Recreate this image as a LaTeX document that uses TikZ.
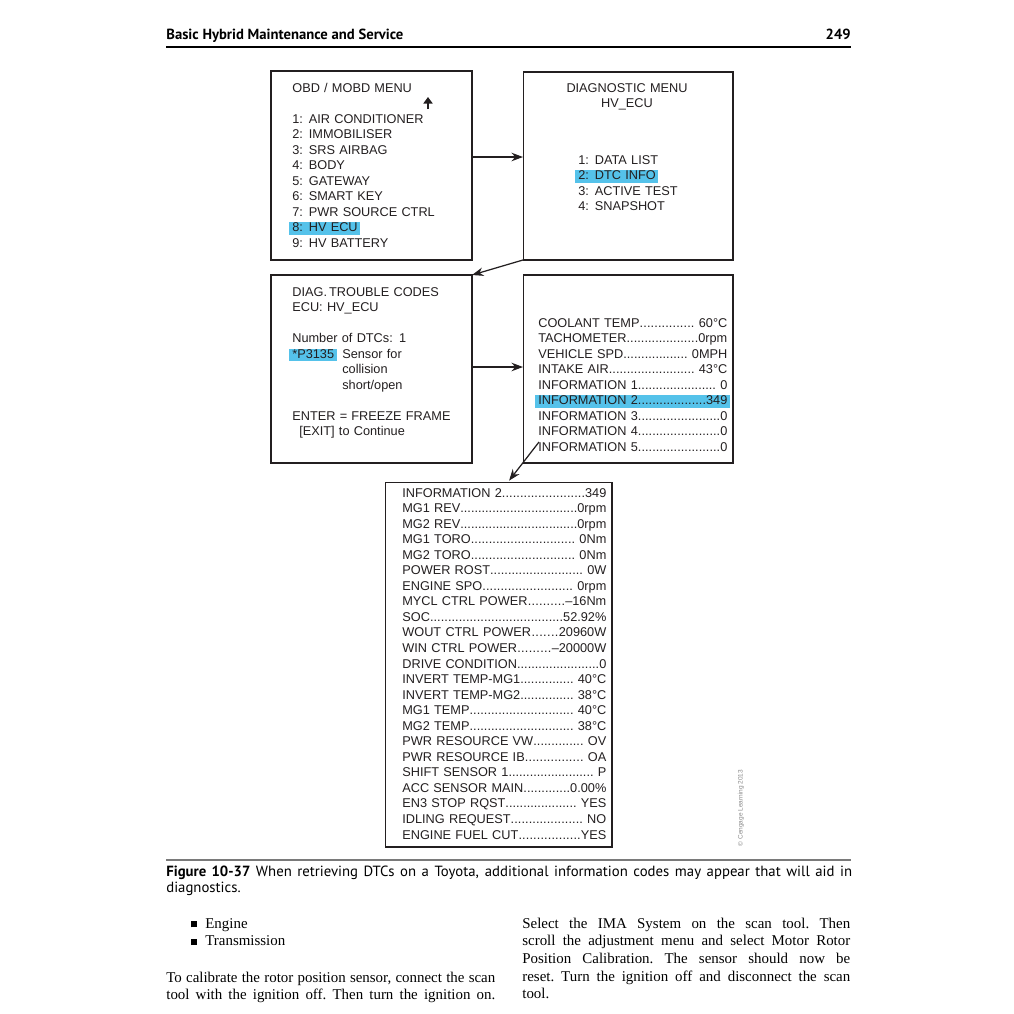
\documentclass[tikz,border=0pt]{standalone}
\usepackage{fontspec}
\setmainfont{Liberation Serif}
\setsansfont{Liberation Sans}
\newfontfamily\headfont{PT Sans}
\usetikzlibrary{arrows.meta,calc}
\definecolor{ink}{HTML}{231F20}
\definecolor{hilite}{HTML}{55C2EA}
\definecolor{rulegray}{HTML}{7A7A7A}
\definecolor{credit}{HTML}{8A8A8A}
\newcommand\opt[2]{\makebox[0.33cm][l]{#1:}#2}
\newcommand\row[2]{\makebox[\linewidth][l]{#1\xleaders\hbox{.}\hfill#2}}
\newcommand\hl[1]{\leavevmode\setbox0=\hbox{#1}\rlap{\hspace*{-2pt}\textcolor{hilite}{\rule[-1.7pt]{\dimexpr\wd0+3.5pt\relax}{7.2pt}}}\box0}
\newcommand\sqbullet{\leavevmode\llap{\rule[0.4pt]{3.4pt}{3.4pt}\hspace{4.5pt}}}
\newcommand\fullline[1]{\makebox[\linewidth][s]{#1}}
\tikzset{
  screen/.style={draw=ink,line width=0.6pt,inner sep=0pt,outer sep=0pt},
  menu/.style={font=\sffamily\fontsize{7.25}{8.85}\selectfont,text=ink,
               inner sep=0pt,anchor=base west,align=left},
  flow/.style={-{Stealth[length=2.3mm,width=1.7mm]},line width=0.7pt,draw=ink},
  scrollmark/.style={-{Triangle[length=1.3mm,width=1.8mm]},line width=1.7pt,draw=ink},
  body/.style={font=\fontsize{8.5}{10.1}\selectfont\frenchspacing,inner sep=0pt,
               anchor=base west,align=justify},
  caption/.style={font=\headfont\fontsize{8.4}{9.1}\selectfont,inner sep=0pt,
                  anchor=base west,align=justify}
}
\begin{document}
\begin{tikzpicture}[x=0.02cm,y=-0.02cm]
    \useasboundingbox (0,0) rectangle (1014,1014);
    \fill[white] (0,0) rectangle (1014,1014);

    % running head
    \node[anchor=base west,inner sep=0pt,font=\headfont\bfseries\fontsize{8.35}{9.6}\selectfont]
      (title) at (166,39) {Basic Hybrid Maintenance and Service};
    \node[anchor=base east,inner sep=0pt,font=\headfont\bfseries\fontsize{8.35}{9.6}\selectfont]
      (pageno) at (851,39) {249};
    \draw[line width=0.8pt] (title.west |- 0,47) -- (pageno.east |- 0,47);

    % scan tool screens
    \node[screen,minimum width=4.02cm,minimum height=3.78cm] (obd) at (371.5,165.5) {};
    \node[screen,minimum width=4.2cm,minimum height=3.76cm] (diag) at (628,166) {};
    \node[screen,minimum width=4.02cm,minimum height=3.76cm] (dtc) at (371.5,369) {};
    \node[screen,minimum width=4.2cm,minimum height=3.76cm] (frame) at (628,369) {};
    \node[screen,minimum width=4.54cm,minimum height=7.3cm] (info) at (498.5,664.5) {};

    \node[menu,text width=3.6cm] (obdtext) at (292,92)
      {OBD / MOBD MENU\\[8.85pt]
       \opt{1}{AIR CONDITIONER}\\ \opt{2}{IMMOBILISER}\\ \opt{3}{SRS AIRBAG}\\
       \opt{4}{BODY}\\ \opt{5}{GATEWAY}\\ \opt{6}{SMART KEY}\\
       \opt{7}{PWR SOURCE CTRL}\\ \hl{\opt{8}{HV ECU}}\\ \opt{9}{HV BATTERY}};
    \draw[scrollmark] (428,109) -- (428,97);

    \node[menu,anchor=base,align=center,text width=3.6cm] (diagtitle) at (627,92)
      {DIAGNOSTIC MENU\\HV\_ECU};
    \node[menu,text width=3cm] (diagtext) at (578,164)
      {\opt{1}{DATA LIST}\\ \hl{\opt{2}{DTC INFO}}\\
       \opt{3}{ACTIVE TEST}\\ \opt{4}{SNAPSHOT}};

    \node[menu,text width=3.6cm] (dtctext) at (292,296)
      {DIAG.\,TROUBLE CODES\\ ECU: HV\_ECU\\[8.85pt]
       Number of DTCs: 1\\
       \makebox[1.0cm][l]{\hl{*P3135}}Sensor for\\
       \hspace*{1.0cm}collision\\ \hspace*{1.0cm}short/open\\[8.85pt]
       ENTER = FREEZE FRAME\\ \hspace*{0.14cm}[EXIT] to Continue};

    \node[menu,text width=3.78cm] (frametext) at (538,327)
      {\row{COOLANT TEMP}{\ 60°C}\\ \row{TACHOMETER}{0rpm}\\
       \row{VEHICLE SPD}{\ 0MPH}\\ \row{INTAKE AIR}{\ 43°C}\\
       \row{INFORMATION 1}{\ 0}\\ \hl{\row{INFORMATION 2}{349}}\\
       \row{INFORMATION 3}{0}\\ \row{INFORMATION 4}{0}\\
       \row{INFORMATION 5}{0}};

    \node[menu,text width=4.08cm] (infotext) at (402,497)
      {\row{INFORMATION 2}{349}\\ \row{MG1 REV}{0rpm}\\ \row{MG2 REV}{0rpm}\\
       \row{MG1 TORO}{\ 0Nm}\\ \row{MG2 TORO}{\ 0Nm}\\ \row{POWER ROST}{\ 0W}\\
       \row{ENGINE SPO}{\ 0rpm}\\ \row{MYCL CTRL POWER}{--16Nm}\\
       \row{SOC}{52.92\%}\\ \row{WOUT CTRL POWER}{20960W}\\
       \row{WIN CTRL POWER}{--20000W}\\ \row{DRIVE CONDITION}{0}\\
       \row{INVERT TEMP-MG1}{\ 40°C}\\ \row{INVERT TEMP-MG2}{\ 38°C}\\
       \row{MG1 TEMP}{\ 40°C}\\ \row{MG2 TEMP}{\ 38°C}\\
       \row{PWR RESOURCE VW}{\ OV}\\ \row{PWR RESOURCE IB}{\ OA}\\
       \row{SHIFT SENSOR 1}{\ P}\\ \row{ACC SENSOR MAIN}{0.00\%}\\
       \row{EN3 STOP RQST}{\ YES}\\ \row{IDLING REQUEST}{\ NO}\\
       \row{ENGINE FUEL CUT}{YES}};

    \coordinate (pick) at (539,442);
    \draw[flow] (obd.east |- 0,157) -- (diag.west |- 0,157);
    \draw[flow] (diag.south west) -- (dtc.north east);
    \draw[flow] (dtc.east |- 0,367) -- (frame.west |- 0,367);
    \draw[flow,shorten >=1pt] (pick) -- (info.north -| 508,0);

    \node[rotate=90,inner sep=0pt,text=credit,font=\sffamily\fontsize{3.7}{4}\selectfont]
      (credit) at (741,808) {© Cengage Learning 2013};

    % caption
    \draw[rulegray,line width=1pt] (title.west |- 0,860) -- (pageno.east |- 0,860);
    \node[caption,text width=13.72cm] (cap) at (166,876)
      {\textbf{Figure 10-37} When retrieving DTCs on a Toyota, additional information
       codes may appear that will aid in\linebreak diagnostics.};

    % body text
    \node[body,text width=4cm,align=left] (bullets) at (205,928)
      {\sqbullet Engine\\ \sqbullet Transmission};
    \node[body,text width=6.58cm] (leftpar) at (166,982)
      {\fullline{To calibrate the rotor position sensor, connect the scan}\\
       \fullline{tool with the ignition off. Then turn the ignition on.}};
    \node[body,text width=6.56cm] (rightpar) at (522,928)
      {\fullline{Select the IMA System on the scan tool. Then}\\
       \fullline{scroll the adjustment menu and select Motor Rotor}\\
       \fullline{Position Calibration. The sensor should now be}\\
       \fullline{reset. Turn the ignition off and disconnect the scan}\\
       tool.};
\end{tikzpicture}
\end{document}
